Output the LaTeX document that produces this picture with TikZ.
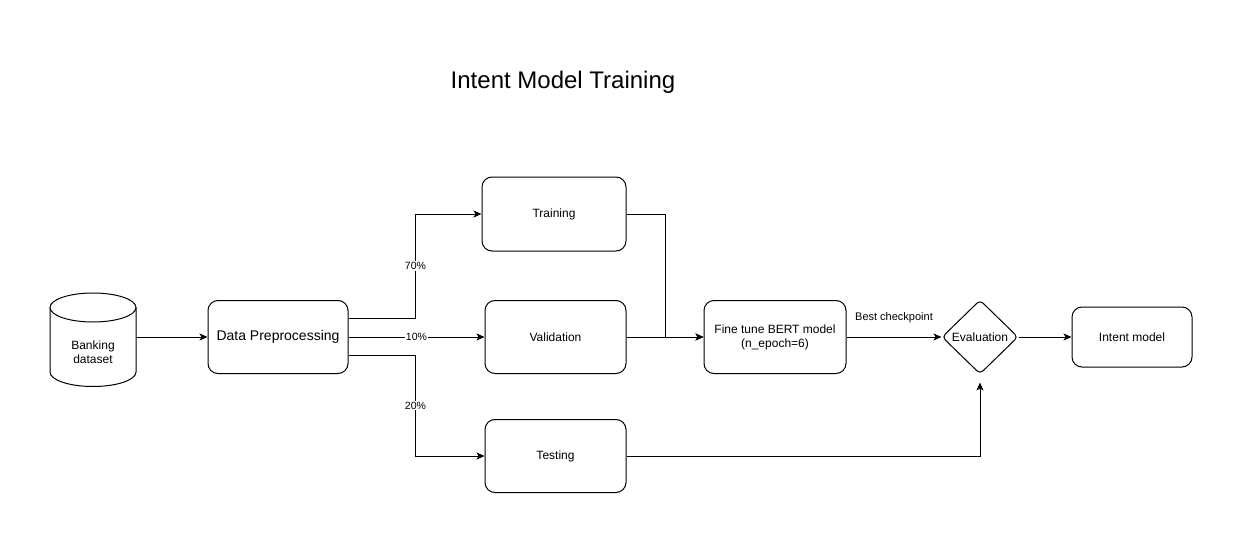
\documentclass[tikz,border=0pt]{standalone}
\usepackage{fontspec}
\setmainfont{Liberation Sans}
\usetikzlibrary{shapes.geometric,arrows.meta}
\begin{document}
\begin{tikzpicture}[x=1pt,y=-1pt,
  box/.style={draw,line width=1pt,rounded corners=10pt,align=center,inner sep=0pt,font=\fontsize{12}{14}\selectfont},
  arr/.style={line width=1pt,-{Stealth[length=8pt,width=7pt,inset=2pt]}},
  lbl/.style={fill=white,inner sep=1pt,font=\fontsize{10.5}{12}\selectfont}]
\useasboundingbox (0,0) rectangle (1243,543);
\node[font=\fontsize{24}{28}\selectfont] (title) at (563,82) {Intent Model Training};
% database cylinder
\node[inner sep=0pt,minimum width=86pt,minimum height=94pt] (db) at (93,340) {};
\draw[line width=1pt,fill=white] (50,307.5) -- (50,372) arc[start angle=180,end angle=0,x radius=43,y radius=14.5] -- (136,307.5);
\draw[line width=1pt] (93,307.5) ellipse[x radius=43,y radius=14.5];
\node[align=center,font=\fontsize{12}{14}\selectfont] (dbtext) at (93,352) {Banking\\dataset};
% boxes
\node[box,minimum width=140pt,minimum height=73pt,font=\fontsize{14}{16}\selectfont] (dp) at (278,337) {Data Preprocessing};
\node[box,minimum width=144pt,minimum height=74pt] (train) at (554,214) {Training};
\node[box,minimum width=141pt,minimum height=73pt] (val) at (555.5,337) {Validation};
\node[box,minimum width=141pt,minimum height=73pt] (test) at (555.5,456) {Testing};
\node[box,minimum width=142pt,minimum height=73pt] (ft) at (775,337) {Fine tune BERT model\\(n\_epoch=6)};
\node[draw,line width=1pt,shape=diamond,rounded corners=4pt,inner sep=0pt,minimum width=76pt,minimum height=74pt,font=\fontsize{12}{14}\selectfont] (eval) at (980,337) {Evaluation};
\node[box,minimum width=120pt,minimum height=60pt] (intent) at (1132,337) {Intent model};
% connectors
\draw[arr] (dp.west -| db.east) -- (dp.west);
\draw[arr] ([yshift=19pt]dp.east) -- ++(67,0) |- (train.west) node[lbl,pos=0.25] {70\%};
\draw[arr] (dp.east) -- (val.west) node[lbl,midway] {10\%};
\draw[arr] ([yshift=-18pt]dp.east) -- ++(67,0) |- (test.west) node[lbl,pos=0.25] {20\%};
\draw[arr] (train.east) -- ++(39,0) |- (ft.west);
\draw[arr] (val.east) -- (ft.west);
\draw[arr] (ft.east) -- (eval.west) node[midway,yshift=19pt,font=\fontsize{11}{13}\selectfont] {Best checkpoint};
\draw[arr,shorten >=8pt] (test.east) -| (eval.south);
\draw[arr] (eval.east) -- (intent.west);
\end{tikzpicture}
\end{document}
